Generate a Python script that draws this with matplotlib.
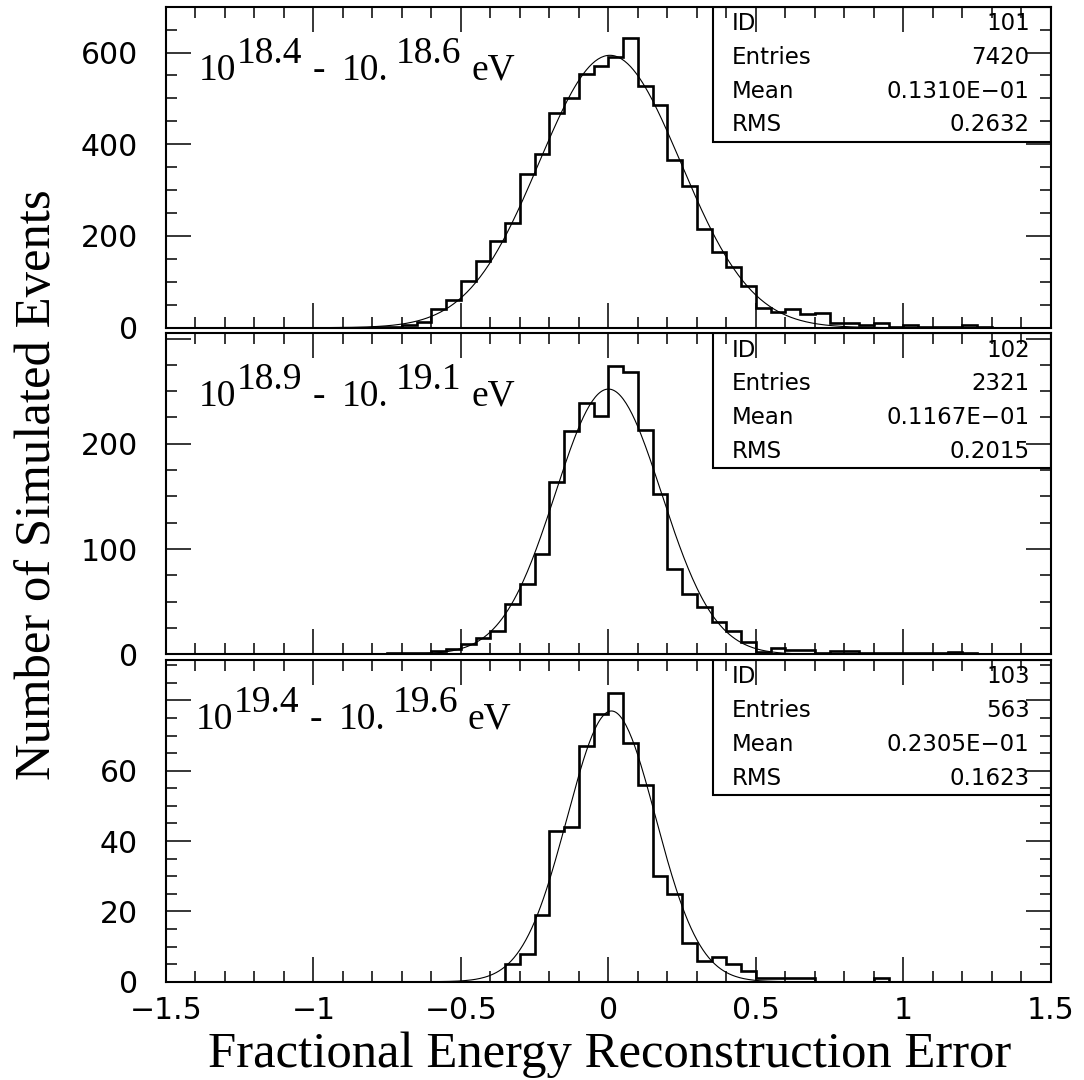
import numpy as np
import matplotlib
matplotlib.use('Agg')
import matplotlib.pyplot as plt
from matplotlib.ticker import MultipleLocator, FuncFormatter
from matplotlib.patches import Rectangle

# bin edges: 60 bins of 0.05 from -1.5 to 1.5
edges = np.linspace(-1.5, 1.5, 61)

counts_184 = [0]*14 + [1, 2, 5, 13, 40, 60, 102, 146, 190, 228,
                       335, 378, 468, 500, 554, 570, 591, 631, 528, 485,
                       365, 310, 215, 166, 133, 91, 42, 34, 40, 30,
                       33, 11, 11, 6, 11, 2, 5, 2, 2, 2,
                       5, 2] + [0]*4
counts_189 = [0]*15 + [1, 1, 1, 3, 5, 10, 15, 22, 48, 67,
                       95, 164, 212, 239, 226, 274, 268, 213, 152, 81,
                       57, 45, 31, 22, 12, 2, 6, 4, 4, 1,
                       3, 3, 1, 1, 1, 1, 1, 1, 2, 1] + [0]*5
counts_194 = [0]*23 + [5, 8, 19, 43, 44, 67, 76, 82, 68, 56,
                       30, 25, 11, 6, 7, 5, 3, 1, 1, 1,
                       1, 0, 0, 0, 0, 1] + [0]*11

# gaussian fit parameters (amplitude, mean, sigma)
fit_184 = (594, 0.005, 0.24)
fit_189 = (252, 0.0, 0.18)
fit_194 = (77, 0.01, 0.15)

e_lo = ['18.4', '18.9', '19.4']
e_hi = ['18.6', '19.1', '19.6']
hist_id = ['101', '102', '103']
entries = ['7420', '2321', '563']
means = ['0.1310E\u221201', '0.1167E\u221201', '0.2305E\u221201']
rms = ['0.2632', '0.2015', '0.1623']

ymax = [700, 305, 91.5]
ymajor = [[0, 200, 400, 600], [0, 100, 200, 300], [0, 20, 40, 60, 80]]
ylabels = [['0', '200', '400', '600'], ['0', '100', '200', ''], ['0', '20', '40', '60', '']]
yminor = [50, 25, 5]

counts = [counts_184, counts_189, counts_194]
fits = [fit_184, fit_189, fit_194]

fig = plt.figure(figsize=(10.84, 10.8), dpi=100)

bottoms = [0.6966, 0.3942, 0.0910]
heights = [0.2972, 0.2972, 0.2979]
ann_x = [0.0373, 0.0373, 0.0336]
ann_y = [0.7717, 0.7735, 0.7855]
piece_dx = [0, 27.4, 82.1, 103, 141.8, 196]
xfit = np.linspace(-1.5, 1.5, 601)

def xfmt(v, pos):
    return ('%g' % v).replace('-', '\u2212')

for i in range(3):
    ax = fig.add_axes([0.1531, bottoms[i], 0.8164, heights[i]])
    ax.stairs(counts[i], edges, baseline=0, color='black', linewidth=1.9)
    a, mu, sg = fits[i]
    ax.plot(xfit, a*np.exp(-0.5*((xfit-mu)/sg)**2), color='black', lw=0.8)
    ax.set_xlim(-1.5, 1.5)
    ax.set_ylim(0, ymax[i])
    ax.xaxis.set_major_locator(MultipleLocator(0.5))
    ax.xaxis.set_minor_locator(MultipleLocator(0.1))
    ax.xaxis.set_major_formatter(FuncFormatter(xfmt))
    ax.set_yticks(ymajor[i])
    ax.set_yticklabels(ylabels[i])
    ax.yaxis.set_minor_locator(MultipleLocator(yminor[i]))
    ax.tick_params(which='both', direction='in', top=True, right=True, width=1.1)
    ax.tick_params(which='major', length=18, labelsize=21.5)
    ax.tick_params(which='minor', length=8)
    ax.tick_params(axis='y', pad=20)
    ax.tick_params(axis='x', pad=10)
    if i < 2:
        ax.tick_params(labelbottom=False)
    for s in ax.spines.values():
        s.set_linewidth(1.5)

    # stats box
    ax.add_patch(Rectangle((0.618, 0.579), 0.382, 0.421, transform=ax.transAxes,
                           facecolor='none', edgecolor='black', lw=1.5, zorder=3))
    rows = [('ID', hist_id[i]), ('Entries', entries[i]), ('Mean', means[i]), ('RMS', rms[i])]
    for k, (lab, val) in enumerate(rows):
        yy = 1 - 0.421*(2*k + 1)/8
        ax.text(0.639, yy, lab, transform=ax.transAxes, ha='left', va='center',
                fontsize=16.5, family='DejaVu Sans')
        ax.text(0.976, yy, val, transform=ax.transAxes, ha='right', va='center',
                fontsize=16.5, family='DejaVu Sans')

    # energy range label
    pieces = ['10', e_lo[i], '-', '10.', e_hi[i], 'eV']
    raised = [False, True, False, False, True, False]
    for p, dx, r in zip(pieces, piece_dx, raised):
        ax.annotate(p, xy=(ann_x[i], ann_y[i]), xycoords='axes fraction',
                    xytext=(dx, 12 if r else 0), textcoords='offset points',
                    ha='left', va='baseline', fontsize=27, family='Liberation Serif')

fig.text(0.035, 0.551, 'Number of Simulated Events', rotation=90, ha='center',
         va='center', fontsize=36.5, family='Liberation Serif')
fig.text(0.5623, 0.012, 'Fractional Energy Reconstruction Error', ha='center',
         va='baseline', fontsize=36.5, family='Liberation Serif')

fig.savefig('out.png', dpi=100)
